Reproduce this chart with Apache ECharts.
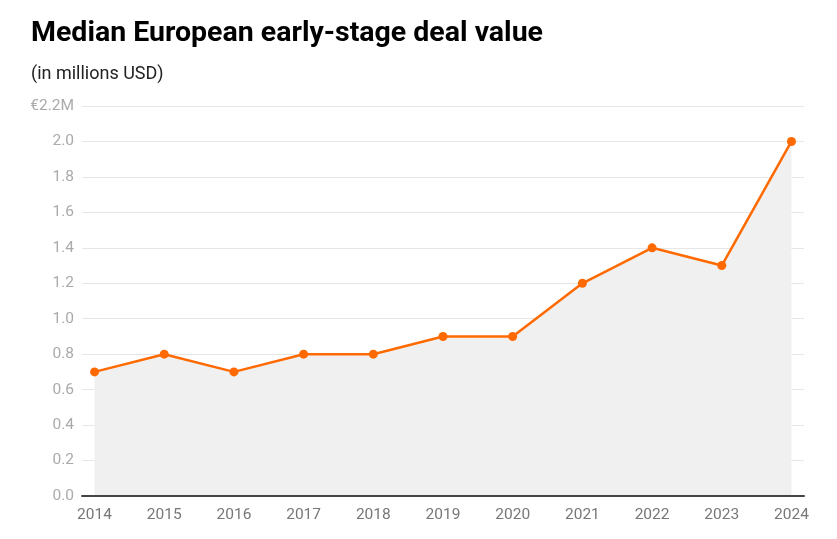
<!DOCTYPE html>
<html>
<head>
<meta charset="utf-8">
<script src="https://cdn.jsdelivr.net/npm/echarts@6/dist/echarts.min.js"></script>
<style>html,body{margin:0;padding:0;background:#fff}#c{width:837px;height:539px}</style>
</head>
<body>
<div id="c"></div>
<script>
const years = [2014, 2015, 2016, 2017, 2018, 2019, 2020, 2021, 2022, 2023, 2024];
const values = [0.7, 0.8, 0.7, 0.8, 0.8, 0.9, 0.9, 1.2, 1.4, 1.3, 2.0];
const titleText = 'Median European early-stage deal value';
const subtitleText = '(in millions USD)';

const chart = echarts.init(document.getElementById('c'), null, {renderer: 'canvas'});
chart.setOption({
  animation: false,
  backgroundColor: '#ffffff',
  textStyle: {fontFamily: 'Roboto'},
  title: [
    {text: titleText, left: 26, top: 14, textStyle: {fontFamily: 'Roboto', fontSize: 28.5, fontWeight: 'bold', color: '#000'}},
    {text: subtitleText, left: 26, top: 60, textStyle: {fontFamily: 'Roboto', fontSize: 18, fontWeight: 'normal', color: '#222'}}
  ],
  grid: {left: 82, right: 33, top: 106, bottom: 43, containLabel: false},
  xAxis: {
    type: 'value',
    min: 2013.82,
    max: 2024.18,
    z: 10,
    splitLine: {show: false},
    axisTick: {show: false},
    axisLine: {show: true, lineStyle: {color: '#444', width: 2}},
    axisLabel: {
      customValues: years,
      formatter: v => String(Math.round(v)),
      color: '#777',
      fontSize: 15.5,
      margin: 11
    }
  },
  yAxis: {
    type: 'value',
    min: 0,
    max: 2.2,
    interval: 0.2,
    axisLine: {show: false},
    axisTick: {show: false},
    splitLine: {lineStyle: {color: '#e6e6e6', width: 1}},
    axisLabel: {
      color: '#aaa',
      fontSize: 15.5,
      margin: 8,
      formatter: v => {
        const r = Math.round(v * 10) / 10;
        if (Math.abs(r - 2.2) < 1e-6) return '€2.2M';
        return r.toFixed(1);
      }
    }
  },
  series: [{
    type: 'line',
    data: years.map((y, i) => [y, values[i]]),
    symbol: 'circle',
    symbolSize: 9,
    lineStyle: {color: '#ff6a00', width: 2.5},
    itemStyle: {color: '#ff6a00'},
    areaStyle: {color: '#f0f0f0', opacity: 1},
    z: 3
  }]
});
</script>
</body>
</html>
